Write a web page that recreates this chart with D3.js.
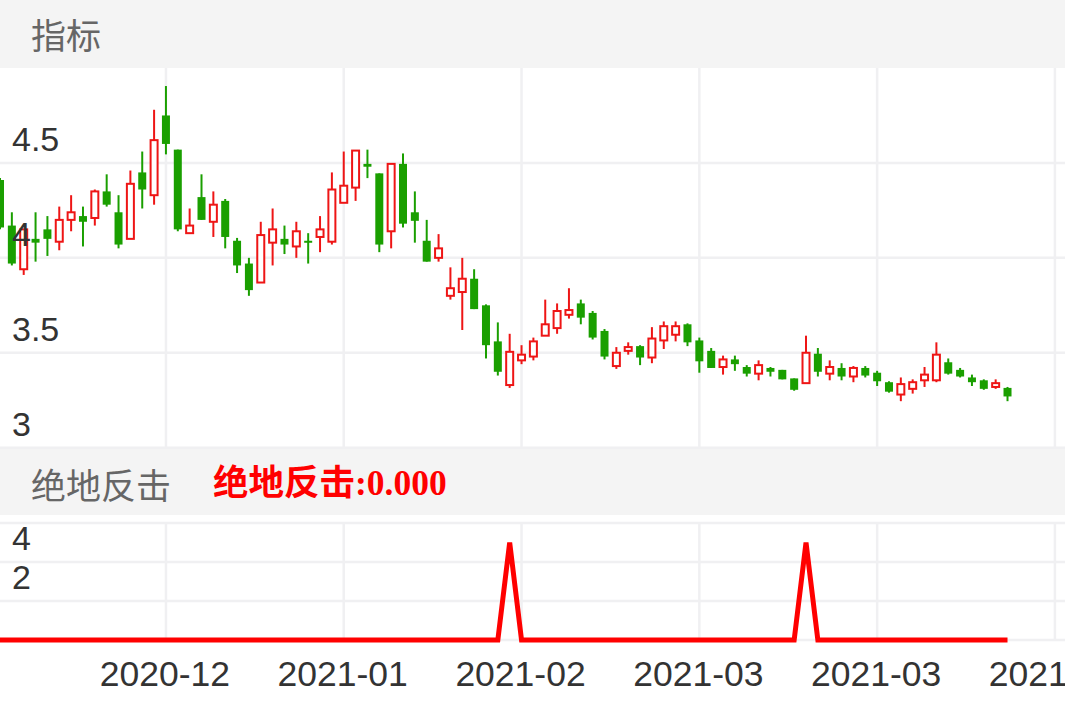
<!DOCTYPE html>
<html>
<head>
<meta charset="utf-8">
<script src="https://cdn.jsdelivr.net/npm/d3@7"></script>
<style>
  html, body { margin: 0; padding: 0; background: #fff; overflow: hidden; }
  svg { display: block; }
</style>
</head>
<body>
<div id="chart"></div>
<script>
// daily k-line values
const opens  = [4.41,4.17,3.94,4.10,4.15,4.085,4.20,4.22,4.21,4.35,4.24,4.10,4.45,4.33,4.75,4.57,4.13,4.32,4.19,4.30,
                4.09,3.97,3.87,4.08,4.10,4.06,4.09,4.11,4.085,4.29,4.37,4.495,4.445,4.14,4.495,4.24,4.09,4.00,3.80,3.82,
                3.89,3.75,3.56,3.33,3.46,3.48,3.59,3.63,3.70,3.76,3.71,3.615,3.43,3.51,3.535,3.475,3.565,3.595,3.65,3.565,
                3.51,3.425,3.465,3.425,3.39,3.42,3.41,3.365,3.34,3.495,3.39,3.42,3.375,3.42,3.395,3.345,3.28,3.31,3.355,3.355,
                3.45,3.41,3.37,3.355,3.32,3.315];
const highs  = [4.42,4.24,4.15,4.24,4.22,4.27,4.33,4.27,4.36,4.44,4.33,4.46,4.56,4.78,4.905,4.57,4.26,4.44,4.35,4.31,
                4.105,4.00,4.19,4.26,4.17,4.19,4.13,4.22,4.45,4.56,4.565,4.57,4.445,4.495,4.55,4.35,4.20,4.125,3.95,4.00,
                3.94,3.755,3.66,3.60,3.54,3.58,3.78,3.76,3.84,3.78,3.72,3.625,3.53,3.555,3.54,3.635,3.665,3.665,3.655,3.58,
                3.525,3.485,3.485,3.435,3.46,3.425,3.41,3.365,3.59,3.525,3.46,3.445,3.43,3.43,3.405,3.35,3.37,3.36,3.425,3.555,
                3.47,3.42,3.385,3.36,3.36,3.32];
const lows   = [4.15,3.96,3.91,3.98,4.01,4.04,4.14,4.06,4.17,4.27,4.05,4.10,4.26,4.28,4.545,4.14,4.13,4.20,4.11,4.05,
                3.92,3.80,3.87,3.96,4.02,4.00,3.97,4.03,4.07,4.29,4.30,4.42,4.03,4.05,4.16,4.08,3.98,3.98,3.78,3.62,
                3.73,3.47,3.38,3.315,3.44,3.46,3.59,3.60,3.68,3.65,3.57,3.465,3.415,3.49,3.435,3.445,3.52,3.56,3.535,3.395,
                3.42,3.385,3.405,3.375,3.355,3.375,3.36,3.30,3.34,3.375,3.355,3.355,3.345,3.37,3.325,3.29,3.245,3.285,3.32,3.345,
                3.385,3.37,3.325,3.305,3.31,3.245];
const closes = [4.16,3.97,4.15,4.08,4.10,4.20,4.24,4.19,4.35,4.28,4.07,4.39,4.36,4.62,4.60,4.15,4.17,4.20,4.28,4.11,
                3.96,3.83,4.12,4.15,4.07,4.14,4.08,4.15,4.36,4.38,4.565,4.48,4.07,4.495,4.18,4.195,3.98,4.05,3.84,3.89,
                3.73,3.54,3.40,3.505,3.49,3.56,3.65,3.72,3.725,3.685,3.58,3.48,3.50,3.53,3.475,3.575,3.64,3.64,3.555,3.455,
                3.42,3.465,3.44,3.39,3.435,3.40,3.36,3.305,3.50,3.40,3.425,3.375,3.42,3.38,3.35,3.295,3.335,3.345,3.385,3.49,
                3.39,3.375,3.345,3.31,3.34,3.27];

// 绝地反击 signal
const signal = [0,0,0,0,0,0,0,0,0,0,0,0,0,0,0,0,0,0,0,0,
                0,0,0,0,0,0,0,0,0,0,0,0,0,0,0,0,0,0,0,0,
                0,0,0,5,0,0,0,0,0,0,0,0,0,0,0,0,0,0,0,0,
                0,0,0,0,0,0,0,0,5,0,0,0,0,0,0,0,0,0,0,0,
                0,0,0,0,0,0];

// axes
const xTickIndex  = [14, 29, 44, 59, 74, 89];
const xTickLabels = ["2020-12", "2021-01", "2021-02", "2021-03", "2021-03", "2021-04"];
const priceTicks  = [3, 3.5, 4, 4.5];
const priceGrid   = [3, 3.5, 4, 4.5];
const signalTicks = [2, 4];
const signalGrid  = [0, 2, 4, 6];

const W = 1065, H = 708;
const UP = "#ee1515", DOWN = "#1a9f00", GRID = "#f0f0f2", BAR = "#f4f4f4";

const svg = d3.select("#chart").append("svg")
    .attr("width", W)
    .attr("height", H);

// scales
const x = d3.scaleLinear().domain([0, 89.85]).range([0, W]);
const yPrice = d3.scaleLinear().domain([3, 5]).range([447.7, 68]);
const ySig = d3.scaleLinear().domain([0, 6]).range([640, 523]);

// title bars
svg.append("rect").attr("x", 0).attr("y", 0).attr("width", W).attr("height", 68).attr("fill", BAR);
svg.append("rect").attr("x", 0).attr("y", 447).attr("width", W).attr("height", 68).attr("fill", BAR);

svg.append("text")
    .attr("x", 31).attr("y", 33)
    .attr("dominant-baseline", "central")
    .style("font-family", "'Noto Sans CJK SC'")
    .style("font-size", "35px")
    .attr("fill", "#666")
    .text("指标");

svg.append("text")
    .attr("x", 31).attr("y", 483)
    .attr("dominant-baseline", "central")
    .style("font-family", "'Noto Sans CJK SC'")
    .style("font-size", "35px")
    .attr("fill", "#666")
    .text("绝地反击");

svg.append("text")
    .attr("x", 213).attr("y", 483)
    .attr("dominant-baseline", "central")
    .style("font-family", "'Liberation Serif', 'Noto Sans CJK SC'")
    .style("font-size", "35.5px")
    .style("font-weight", "bold")
    .attr("fill", "#ff0000")
    .text("绝地反击:" + d3.format(".3f")(signal[signal.length - 1]));

// grid, top panel
const gTop = svg.append("g");
gTop.selectAll(".hgrid").data(priceGrid).enter().append("line")
    .attr("x1", 0).attr("x2", W)
    .attr("y1", d => yPrice(d)).attr("y2", d => yPrice(d))
    .attr("stroke", GRID).attr("stroke-width", 2.5);
gTop.selectAll(".vgrid").data(xTickIndex).enter().append("line")
    .attr("x1", d => x(d)).attr("x2", d => x(d))
    .attr("y1", 68).attr("y2", 447)
    .attr("stroke", GRID).attr("stroke-width", 2.5);

// grid, bottom panel
const gBot = svg.append("g");
gBot.selectAll(".hgrid").data(signalGrid).enter().append("line")
    .attr("x1", 0).attr("x2", W)
    .attr("y1", d => ySig(d)).attr("y2", d => ySig(d))
    .attr("stroke", GRID).attr("stroke-width", 2.5);
gBot.selectAll(".vgrid").data(xTickIndex).enter().append("line")
    .attr("x1", d => x(d)).attr("x2", d => x(d))
    .attr("y1", 523).attr("y2", 640)
    .attr("stroke", GRID).attr("stroke-width", 2.5);

// candles
const candles = opens.map((o, i) => ({ i: i, o: o, h: highs[i], l: lows[i], c: closes[i] }));

const k = svg.append("g").selectAll(".candle")
    .data(candles)
    .enter()
    .append("g")
    .attr("class", "candle");

k.append("line")
    .attr("x1", d => x(d.i)).attr("x2", d => x(d.i))
    .attr("y1", d => yPrice(d.h)).attr("y2", d => yPrice(d.l))
    .attr("stroke", d => d.c >= d.o ? UP : DOWN)
    .attr("stroke-width", 2);

k.append("rect")
    .attr("x", d => d.c >= d.o ? x(d.i) - 3.5 : x(d.i) - 4)
    .attr("width", d => d.c >= d.o ? 7 : 8)
    .attr("y", d => yPrice(Math.max(d.o, d.c)))
    .attr("height", d => Math.max(Math.abs(yPrice(d.o) - yPrice(d.c)), 2))
    .attr("fill", d => d.c >= d.o ? "#fff" : DOWN)
    .attr("stroke", d => d.c >= d.o ? UP : "none")
    .attr("stroke-width", 2);

// y labels
const labelFont = "'Liberation Sans', Arial, sans-serif";
svg.append("g").selectAll("text")
    .data(priceTicks)
    .enter().append("text")
    .attr("x", 12)
    .attr("y", d => yPrice(d) - 24)
    .attr("dominant-baseline", "central")
    .style("font-family", labelFont)
    .style("font-size", "34px")
    .attr("fill", "#333")
    .text(d => d3.format("~g")(d));

svg.append("g").selectAll("text")
    .data(signalTicks)
    .enter().append("text")
    .attr("x", 12)
    .attr("y", d => ySig(d) - 24)
    .attr("dominant-baseline", "central")
    .style("font-family", labelFont)
    .style("font-size", "34px")
    .attr("fill", "#333")
    .text(d => d);

// signal line
const line = d3.line()
    .x((d, i) => x(i))
    .y(d => ySig(d));
svg.append("path")
    .datum(signal)
    .attr("d", line)
    .attr("fill", "none")
    .attr("stroke", "#ff0000")
    .attr("stroke-width", 5)
    .attr("stroke-linejoin", "miter");

// x labels
svg.append("g").selectAll("text")
    .data(xTickIndex)
    .enter().append("text")
    .attr("x", d => x(d) - 1)
    .attr("y", 674)
    .attr("text-anchor", "middle")
    .attr("dominant-baseline", "central")
    .style("font-family", labelFont)
    .style("font-size", "35.5px")
    .attr("fill", "#333")
    .text((d, i) => xTickLabels[i]);
</script>
</body>
</html>
